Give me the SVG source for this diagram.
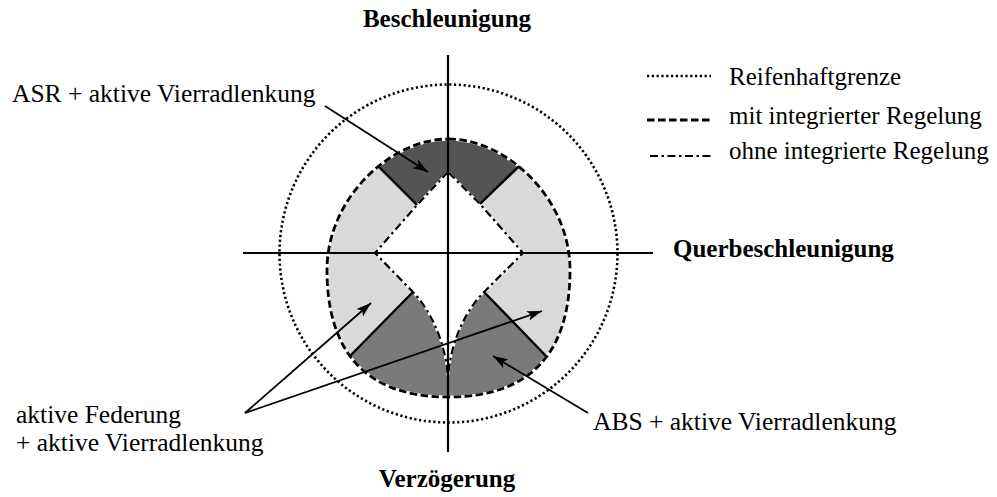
<svg xmlns="http://www.w3.org/2000/svg" width="997" height="497" viewBox="0 0 997 497">
  <style>
    .lbl { font-family: "Liberation Serif", serif; font-size: 25px; font-weight: normal; fill: #000; }
    .big { font-size: 25.5px; }
    .ttl { font-family: "Liberation Serif", serif; font-size: 25px; font-weight: bold; fill: #000; }
    .axis { stroke: #000; stroke-width: 2.2; fill: none; }
    .limit { stroke: #000; stroke-width: 2.6; stroke-dasharray: 2.2 2.6; fill: none; }
    .outer { stroke: #000; stroke-width: 2.8; stroke-dasharray: 7.5 3.5; fill: none; }
    .inner { stroke: #000; stroke-width: 2.2; stroke-dasharray: 8 3.5 2.5 3.5; fill: none; }
    .under { stroke: #fff; fill: none; }
    .split { stroke: #000; stroke-width: 2.4; fill: none; }
    .arrow { stroke: #000; stroke-width: 1.8; fill: none; marker-end: url(#head); }
  </style>
  <defs>
    <marker id="head" markerUnits="userSpaceOnUse" markerWidth="16" markerHeight="10" refX="15" refY="5" orient="auto">
      <path d="M0,0 L15,5 L0,10 L3.5,5 Z" fill="#000"/>
    </marker>
    <path id="egg" d="M448.5,139 C506,139 570,198 570,270 C570,342 540,397 448.5,397 C357,397 327,342 327,270 C327,198 391,139 448.5,139 Z"/>
    <path id="hole" d="M448,172 L417,205 L375,253 L413,292 C430,310 445,340 448,377 C451,340 466,310 484,292 L523,253 L480,204 Z"/>
    <clipPath id="eggClip"><use href="#egg"/></clipPath>
  </defs>

  <!-- tyre adhesion limit -->
  <g id="limit-circle">
    <circle cx="448.5" cy="253.5" r="169" class="limit"/>
  </g>

  <!-- operating range with integrated control -->
  <g id="range">
    <use href="#egg" fill="#d9d9d9"/>
    <g clip-path="url(#eggClip)">
      <polygon id="asr-zone" points="417,205 350,140 350,120 550,120 550,140 480,204 448,175" fill="#545454"/>
      <polygon id="abs-zone" points="413,292 330,375 330,420 570,420 567,378 484,292 448,330" fill="#7a7a7a"/>
    </g>
    <use href="#hole" fill="#fff"/>
    <use href="#egg" class="under" stroke-width="2.8"/>
    <use href="#egg" class="outer"/>
    <use href="#hole" class="under" stroke-width="2.2"/>
    <use href="#hole" class="inner"/>
    <g id="zone-borders">
      <line x1="378" y1="166" x2="417" y2="205" class="split"/>
      <line x1="519" y1="166" x2="480" y2="204" class="split"/>
      <line x1="350" y1="356" x2="413" y2="292" class="split"/>
      <line x1="547" y1="357" x2="484" y2="292" class="split"/>
    </g>
  </g>

  <!-- axes -->
  <g id="axes">
    <line x1="448" y1="55" x2="448" y2="452" class="axis"/>
    <line x1="243" y1="253" x2="653" y2="253" class="axis"/>
    <text x="447" y="27" class="ttl" text-anchor="middle">Beschleunigung</text>
    <text x="673" y="257" class="ttl">Querbeschleunigung</text>
    <text x="447" y="487" class="ttl" text-anchor="middle">Verzögerung</text>
  </g>

  <!-- callouts -->
  <g id="connectors">
    <line x1="325" y1="106" x2="428" y2="172" class="arrow"/>
    <line x1="245" y1="413" x2="371" y2="303" class="arrow"/>
    <line x1="245" y1="413" x2="542" y2="311" class="arrow"/>
    <line x1="588" y1="413" x2="493" y2="356" class="arrow"/>
  </g>

  <g id="label-asr">
    <text x="12" y="102" class="lbl big">ASR + aktive Vierradlenkung</text>
  </g>
  <g id="label-federung">
    <text x="16" y="423" class="lbl big">aktive Federung</text>
    <text x="16" y="451" class="lbl big">+ aktive Vierradlenkung</text>
  </g>
  <g id="label-abs">
    <text x="593" y="430" class="lbl big">ABS + aktive Vierradlenkung</text>
  </g>

  <!-- legend -->
  <g id="legend">
    <line x1="647" y1="76" x2="711" y2="76" class="limit" stroke-width="2.4"/>
    <text x="729" y="85" class="lbl">Reifenhaftgrenze</text>
    <line x1="647" y1="120" x2="711" y2="120" class="outer"/>
    <text x="729" y="124" class="lbl">mit integrierter Regelung</text>
    <line x1="650" y1="156" x2="711" y2="156" class="inner" stroke-width="2.6" stroke-dasharray="10 4 3 4"/>
    <text x="729" y="159" class="lbl">ohne integrierte Regelung</text>
  </g>
</svg>
